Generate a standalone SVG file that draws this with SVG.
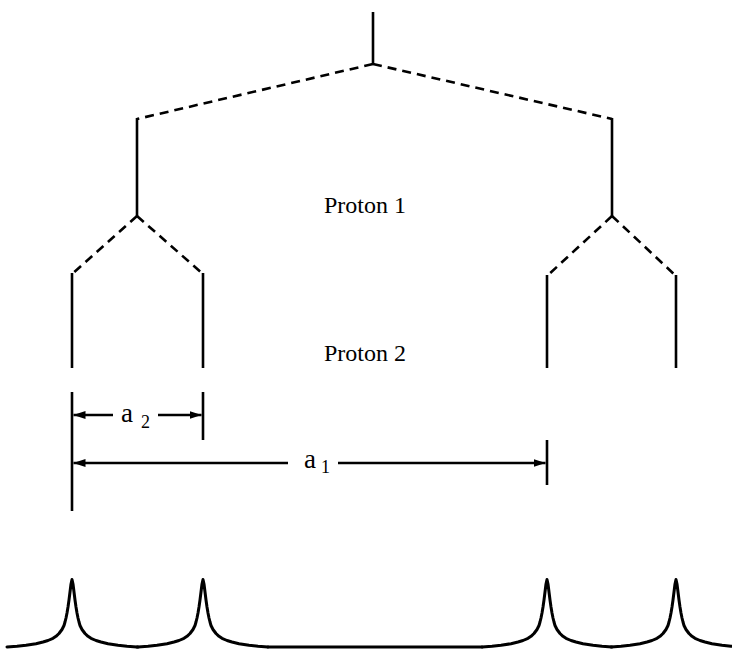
<svg xmlns="http://www.w3.org/2000/svg" width="732" height="650" viewBox="0 0 732 650">
<style>
.ln{stroke:#000;stroke-width:2.6;fill:none;stroke-linecap:butt}
.ds{stroke:#000;stroke-width:2.6;fill:none;stroke-dasharray:9 6}
.pk{stroke:#000;stroke-width:3;fill:none;stroke-linejoin:round;stroke-linecap:round}
text{font-family:'Liberation Serif','Times New Roman',serif;fill:#000}
</style>
<defs>
<marker id="ah" viewBox="0 0 12 8" refX="12" refY="4" markerWidth="12" markerHeight="8" markerUnits="userSpaceOnUse" orient="auto">
<path d="M0,0 L12,4 L0,8 Z" fill="#000"/>
</marker>
<path id="peak" d="M-65,647 L-55,646.3 L-46,645.3 L-36,643.7 L-29,642 L-24,640.5 L-19,638.3 L-16,636.3 L-13,633.5 L-10,629.5 L-8,625.5 L-7,622 L-6,618 L-5,613 L-4,607 L-3,600 L-2,592 L-1,584 L0,579.5 L1,584 L2,592 L3,600 L4,607 L5,613 L6,618 L7,622 L8,625.5 L10,629.5 L13,633.5 L16,636.3 L19,638.3 L24,640.5 L29,642 L36,643.7 L46,645.3 L55,646.3 L65,647"/>
</defs>
<g id="tree">
<line class="ln" x1="373" y1="12" x2="373" y2="64"/>
<line class="ds" x1="373" y1="64" x2="137" y2="119"/>
<line class="ds" x1="373" y1="64" x2="612" y2="119"/>
<line class="ln" x1="137" y1="118" x2="137" y2="216"/>
<line class="ln" x1="612" y1="118" x2="612" y2="216"/>
<line class="ds" x1="137" y1="216" x2="72" y2="274"/>
<line class="ds" x1="137" y1="216" x2="203" y2="274"/>
<line class="ds" x1="612" y1="216" x2="547" y2="276"/>
<line class="ds" x1="612" y1="216" x2="676" y2="276"/>
<line class="ln" x1="72" y1="273" x2="72" y2="368"/>
<line class="ln" x1="203" y1="273" x2="203" y2="368"/>
<line class="ln" x1="547" y1="275" x2="547" y2="368"/>
<line class="ln" x1="676" y1="275" x2="676" y2="368"/>
</g>
<g id="labels">
<text x="324" y="213" font-size="24" font-family="Liberation Serif, serif">Proton 1</text>
<text x="324" y="361" font-size="24" font-family="Liberation Serif, serif">Proton 2</text>
</g>
<g id="dimensions">
<line class="ln" x1="72" y1="392" x2="72" y2="511"/>
<line class="ln" x1="203" y1="392" x2="203" y2="440"/>
<line class="ln" x1="547" y1="440" x2="547" y2="485"/>
<line class="ln" x1="113" y1="415" x2="73.5" y2="415" marker-end="url(#ah)"/>
<line class="ln" x1="158" y1="415" x2="201.5" y2="415" marker-end="url(#ah)"/>
<line class="ln" x1="288" y1="463" x2="73.5" y2="463" marker-end="url(#ah)"/>
<line class="ln" x1="338" y1="463" x2="545.5" y2="463" marker-end="url(#ah)"/>
<text x="121" y="422" font-size="27" font-family="Liberation Serif, serif">a</text>
<text x="141" y="428" font-size="18" font-family="Liberation Serif, serif">2</text>
<text x="304" y="468" font-size="27" font-family="Liberation Serif, serif">a</text>
<text x="321" y="473" font-size="18" font-family="Liberation Serif, serif">1</text>
</g>
<g id="spectrum">
<use href="#peak" class="pk" transform="translate(72,0)"/>
<use href="#peak" class="pk" transform="translate(203,0)"/>
<use href="#peak" class="pk" transform="translate(547,0)"/>
<use href="#peak" class="pk" transform="translate(676,0)"/>
<line class="pk" x1="137" y1="647" x2="138" y2="647"/>
<line class="pk" x1="268" y1="647" x2="482" y2="647"/>
</g>
</svg>
